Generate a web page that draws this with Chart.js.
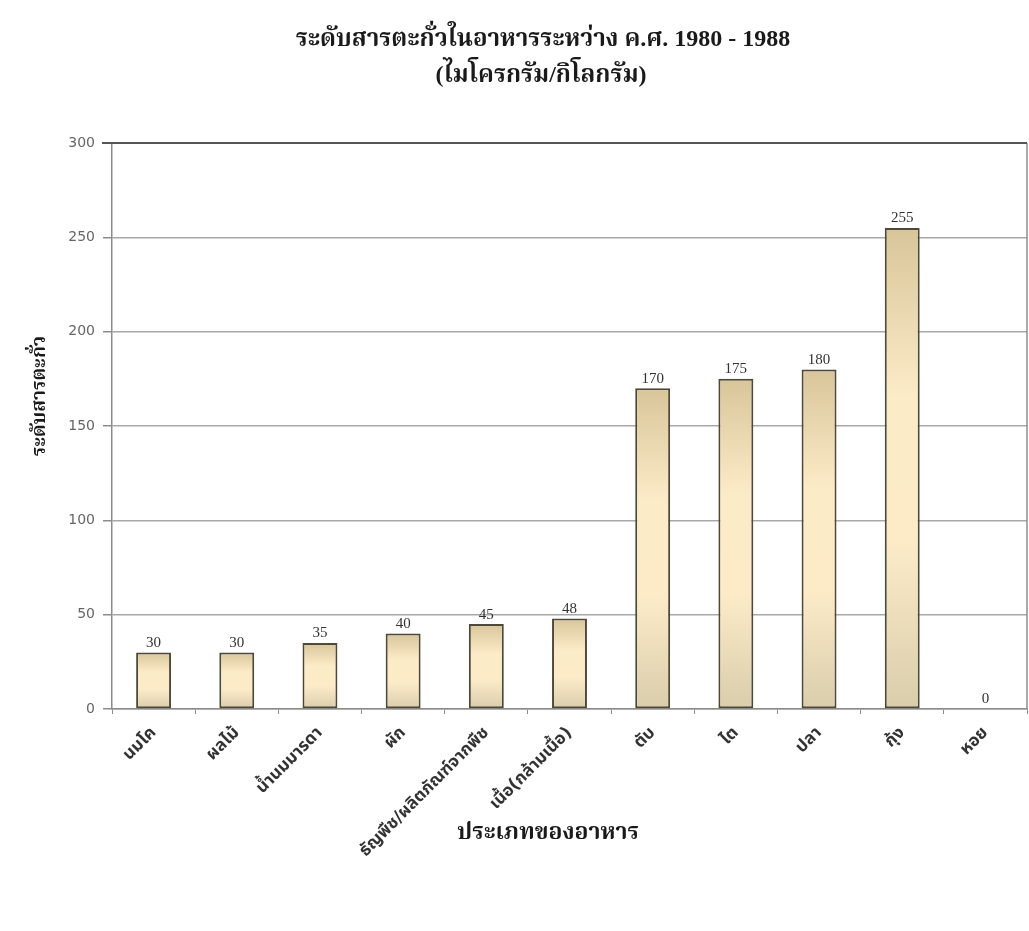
<!DOCTYPE html>
<html lang="th">
<head>
<meta charset="utf-8">
<title>ระดับสารตะกั่วในอาหาร</title>
<script src="https://cdn.jsdelivr.net/npm/chart.js@4.4.1/dist/chart.umd.min.js"></script>
<style>
  html, body { margin: 0; padding: 0; background: #ffffff; }
  #wrap { width: 1029px; height: 931px; }
</style>
</head>
<body>
<div id="wrap"><canvas id="chart" width="1029" height="931"></canvas></div>
<script>
// Food categories and lead levels (µg/kg), 1980 - 1988
const categories = [
  'นมโค', 'ผลไม้', 'น้ำนมมารดา', 'ผัก', 'ธัญพืช/ผลิตภัณฑ์จากพืช',
  'เนื้อ(กล้ามเนื้อ)', 'ตับ', 'ไต', 'ปลา', 'กุ้ง', 'หอย'
];
const leadLevels = [30, 30, 35, 40, 45, 48, 170, 175, 180, 255, 0];
const yTicks = [0, 50, 100, 150, 200, 250, 300];

const titleLines = ['ระดับสารตะกั่วในอาหารระหว่าง ค.ศ. 1980 - 1988', '(ไมโครกรัม/กิโลกรัม)'];
const xTitle = 'ประเภทของอาหาร';
const yTitle = 'ระดับสารตะกั่ว';

const serifThai = '"Liberation Serif", "Noto Serif Thai", "Noto Sans Thai", serif';
const sansThai = '"DejaVu Sans", "Noto Sans Thai", "Noto Sans", sans-serif';

const BAR_PCT = 0.42;

// Vertical tan-cream-tan fill spanning each bar
function barFill(ctx) {
  const chart = ctx.chart;
  const y = chart.scales.y;
  if (!y || ctx.type !== 'data') return '#f6e6c2';
  const v = ctx.raw;
  const top = y.getPixelForValue(v);
  const base = y.getPixelForValue(0);
  if (!(base - top > 1)) return '#f6e6c2';
  const g = chart.ctx.createLinearGradient(0, top, 0, base);
  g.addColorStop(0, '#d8c59a');
  g.addColorStop(0.35, '#fcebc7');
  g.addColorStop(0.65, '#fdebc8');
  g.addColorStop(1, '#d9cdab');
  return g;
}

// Value labels above the bars
const valueLabels = {
  id: 'valueLabels',
  afterDatasetsDraw(chart) {
    const c = chart.ctx;
    const meta = chart.getDatasetMeta(0);
    c.save();
    c.font = '15px "Liberation Serif", "DejaVu Serif", serif';
    c.fillStyle = '#333333';
    c.textAlign = 'center';
    c.textBaseline = 'bottom';
    meta.data.forEach((bar, i) => {
      c.fillText(String(leadLevels[i]), bar.x, bar.y - 2);
    });
    c.restore();
  }
};

// Chart title and axis titles
const titles = {
  id: 'titles',
  afterDraw(chart) {
    const c = chart.ctx;
    c.save();
    c.fillStyle = '#1a1a1a';
    c.textAlign = 'center';
    c.textBaseline = 'middle';
    c.font = 'bold 24px ' + serifThai;
    c.fillText(titleLines[0], 543, 40);
    c.fillText(titleLines[1], 541, 76);
    c.font = 'bold 23px ' + serifThai;
    c.fillText(xTitle, 548, 833);
    c.translate(40, 396);
    c.rotate(-Math.PI / 2);
    c.font = 'bold 19px ' + serifThai;
    c.fillText(yTitle, 0, 0);
    c.restore();
  }
};

// Frame on the top and right of the plot area
const frame = {
  id: 'frame',
  beforeDatasetsDraw(chart) {
    const a = chart.chartArea;
    const c = chart.ctx;
    c.save();
    c.strokeStyle = '#8c8c8c';
    c.lineWidth = 1.5;
    c.beginPath();
    c.moveTo(a.right, a.top);
    c.lineTo(a.right, a.bottom);
    c.stroke();
    c.strokeStyle = '#555555';
    c.lineWidth = 2;
    c.beginPath();
    c.moveTo(a.left - 10, a.top);
    c.lineTo(a.right, a.top);
    c.stroke();
    c.restore();
  }
};

new Chart(document.getElementById('chart'), {
  type: 'bar',
  data: {
    labels: categories,
    datasets: [{
      data: leadLevels,
      backgroundColor: barFill,
      borderColor: '#4d4838',
      borderWidth: 2,
      borderSkipped: false,
      barPercentage: BAR_PCT,
      categoryPercentage: 1.0
    }]
  },
  options: {
    responsive: false,
    animation: false,
    devicePixelRatio: 1,
    layout: { padding: { top: 143, right: 2, left: 0, bottom: 0 } },
    plugins: {
      legend: { display: false },
      title: { display: false },
      tooltip: { enabled: false }
    },
    scales: {
      x: {
        afterFit(scale) { scale.height = 222; },
        grid: {
          display: true,
          drawOnChartArea: false,
          drawTicks: true,
          tickLength: 5,
          offset: true,
          color: '#8c8c8c'
        },
        border: { display: true, color: '#8c8c8c', width: 1.5 },
        ticks: {
          maxRotation: 45,
          minRotation: 45,
          autoSkip: false,
          padding: 9,
          color: '#333333',
          font: { family: sansThai, size: 17, weight: 'bold' }
        }
      },
      y: {
        min: 0,
        max: 300,
        afterFit(scale) { scale.width = 112; },
        afterBuildTicks(scale) { scale.ticks = yTicks.map(v => ({ value: v })); },
        grid: {
          color: '#a8a8a8',
          lineWidth: 1.5,
          drawTicks: true,
          tickLength: 9,
          tickColor: '#8c8c8c'
        },
        border: { display: true, color: '#8c8c8c', width: 1.5 },
        ticks: {
          padding: 8,
          color: '#666666',
          font: { family: '"DejaVu Sans", sans-serif', size: 14 }
        }
      }
    }
  },
  plugins: [frame, valueLabels, titles]
});
</script>
</body>
</html>
